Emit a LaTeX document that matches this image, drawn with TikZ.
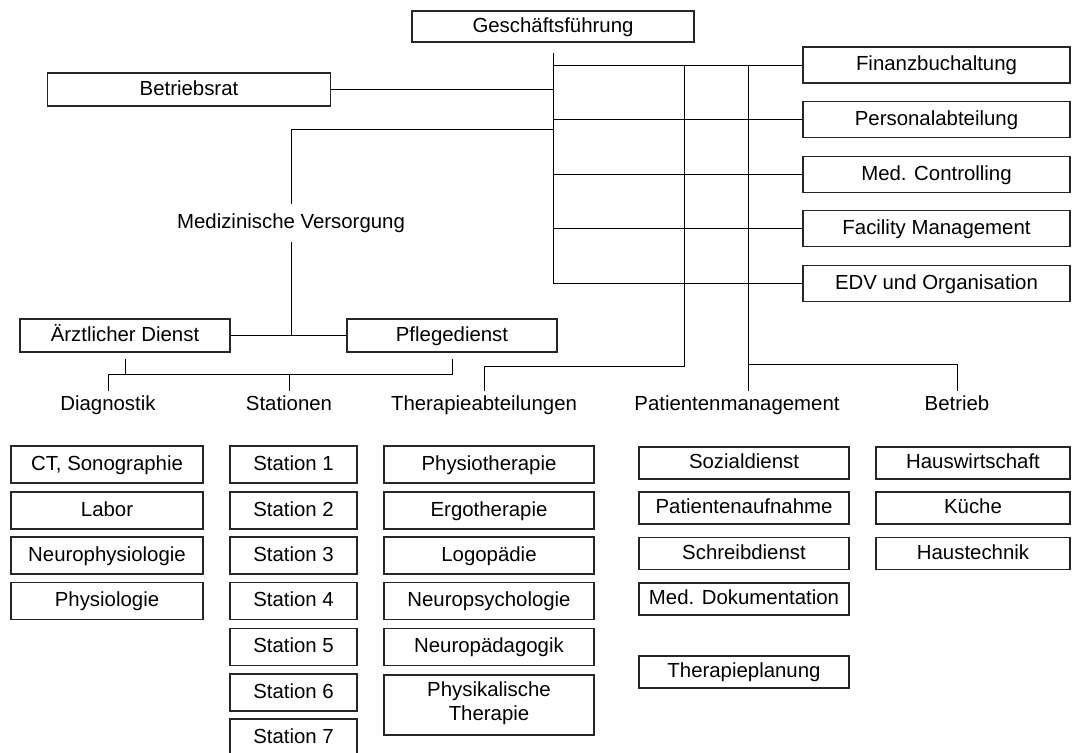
\documentclass[tikz,border=0pt]{standalone}
\usepackage{fontspec}
\setmainfont{Liberation Sans}

\tikzset{
	boxbase/.style={draw=black!85, line width=1.3pt, inner sep=0pt, align=center},
	box/.style={boxbase, text height=10.5pt, text depth=2.5pt},
	conn/.style={draw=black, line width=0.6pt},
	lbl/.style={inner sep=4pt, text height=10pt, text depth=3pt}
}

\begin{document}
\begin{tikzpicture}[x=0.025cm, y=-0.025cm, font=\fontsize{14.5}{17}\selectfont]

	\useasboundingbox (0,0) rectangle (1075,753);
	\clip (0,0) rectangle (1075,753);

	% Leitung
	\node[box, minimum width=7.05cm, minimum height=0.775cm] (gf) at (553,26.5) {Geschäftsführung};
	\node[box, minimum width=7.075cm, minimum height=0.825cm] (br) at (189,89.5) {Betriebsrat};

	% Stabsstellen rechts
	\node[box, minimum width=6.675cm, minimum height=0.9cm] (fin) at (936.5,65) {Finanzbuchaltung};
	\node[box, minimum width=6.675cm, minimum height=0.9cm] (pers) at (936.5,119.5) {Personalabteilung};
	\node[box, minimum width=6.675cm, minimum height=0.9cm] (mctrl) at (936.5,174.5) {Med. Controlling};
	\node[box, minimum width=6.675cm, minimum height=0.9cm] (fac) at (936.5,228.5) {Facility Management};
	\node[box, minimum width=6.675cm, minimum height=0.9cm] (edv) at (936.5,283.5) {EDV und Organisation};

	\coordinate (trunk) at (553,53);
	\draw[conn] (trunk) -- (trunk |- edv.west) -- (edv.west);
	\draw[conn] (trunk |- fin.west) -- (fin.west);
	\draw[conn] (trunk |- pers.west) -- (pers.west);
	\draw[conn] (trunk |- mctrl.west) -- (mctrl.west);
	\draw[conn] (trunk |- fac.west) -- (fac.west);
	\draw[conn] (br.east) -- (br.east -| trunk);

	% Medizinische Versorgung
	\node[minimum height=0.95cm, inner sep=0pt] (mv) at (291,223) {Medizinische Versorgung};
	\node[box, minimum width=5.25cm, minimum height=0.825cm] (aerzt) at (125,335.5) {Ärztlicher Dienst};
	\node[box, minimum width=5.25cm, minimum height=0.825cm] (pflege) at (452,335.5) {Pflegedienst};

	\coordinate (mvtop) at (mv.north |- 0,129);
	\draw[conn] (mvtop -| trunk) -- (mvtop) -- (mv.north);
	\draw[conn] (mv.south) -- (mv.south |- aerzt.east);
	\draw[conn] (aerzt.east) -- (pflege.west);

	% zweite Ebene
	\node[lbl] (diag) at (108,406) {Diagnostik};
	\node[lbl] (stat) at (289,406) {Stationen};
	\node[lbl] (ther) at (484,406) {Therapieabteilungen};
	\node[lbl] (pat) at (737,406) {Patientenmanagement};
	\node[lbl] (betr) at (957,406) {Betrieb};

	\coordinate (bus) at (0,374);
	\draw[conn, shorten >=0.15cm] (diag.north) -- (diag.north |- bus) -- (pflege.south |- bus) -- (pflege.south);
	\draw[conn, shorten >=0.15cm] (aerzt.south |- bus) -- (aerzt.south);
	\draw[conn] (stat.north) -- (stat.north |- bus);

	\coordinate (tv) at (684,366);
	\draw[conn] (ther.north) -- (ther.north |- tv) -- (tv) -- (tv |- fin.west);

	\coordinate (pv) at (748,364);
	\draw[conn] (pv |- fin.west) -- (pv |- pat.north);
	\draw[conn] (pv) -- (pv -| betr.north) -- (betr.north);

	% Diagnostik
	\node[box, minimum width=4.8cm, minimum height=0.925cm] (d1) at (107,464.5) {CT, Sonographie};
	\node[box, minimum width=4.8cm, minimum height=0.925cm] (d2) at (107,510.5) {Labor};
	\node[box, minimum width=4.8cm, minimum height=0.925cm] (d3) at (107,555.5) {Neurophysiologie};
	\node[box, minimum width=4.8cm, minimum height=0.925cm] (d4) at (107,601) {Physiologie};

	% Stationen
	\node[box, minimum width=3.175cm, minimum height=0.925cm] (s1) at (293.5,464.5) {Station 1};
	\node[box, minimum width=3.175cm, minimum height=0.925cm] (s2) at (293.5,510.5) {Station 2};
	\node[box, minimum width=3.175cm, minimum height=0.925cm] (s3) at (293.5,555.5) {Station 3};
	\node[box, minimum width=3.175cm, minimum height=0.925cm] (s4) at (293.5,601) {Station 4};
	\node[box, minimum width=3.175cm, minimum height=0.925cm] (s5) at (293.5,647) {Station 5};
	\node[box, minimum width=3.175cm, minimum height=0.925cm] (s6) at (293.5,692.5) {Station 6};
	\node[box, minimum width=3.175cm, minimum height=0.925cm] (s7) at (293.5,737.5) {Station 7};

	% Therapieabteilungen
	\node[box, minimum width=5.25cm, minimum height=0.925cm] (t1) at (489,464.5) {Physiotherapie};
	\node[box, minimum width=5.25cm, minimum height=0.925cm] (t2) at (489,510.5) {Ergotherapie};
	\node[box, minimum width=5.25cm, minimum height=0.925cm] (t3) at (489,555.5) {Logopädie};
	\node[box, minimum width=5.25cm, minimum height=0.925cm] (t4) at (489,601) {Neuropsychologie};
	\node[box, minimum width=5.25cm, minimum height=0.925cm] (t5) at (489,647) {Neuropädagogik};
	\node[boxbase, minimum width=5.25cm, minimum height=1.5cm, anchor=north] (t6) at (489,674) {\\[-9pt]Physikalische\\Therapie};

	% Patientenmanagement
	\node[box, minimum width=5.25cm, minimum height=0.8cm] (p1) at (744,463) {Sozialdienst};
	\node[box, minimum width=5.25cm, minimum height=0.8cm] (p2) at (744,508) {Patientenaufnahme};
	\node[box, minimum width=5.25cm, minimum height=0.8cm] (p3) at (744,553.5) {Schreibdienst};
	\node[box, minimum width=5.25cm, minimum height=0.8cm] (p4) at (744,599) {Med. Dokumentation};
	\node[box, minimum width=5.25cm, minimum height=0.8cm] (p5) at (744,672) {Therapieplanung};

	% Betrieb
	\node[box, minimum width=4.85cm, minimum height=0.8cm] (b1) at (973,463) {Hauswirtschaft};
	\node[box, minimum width=4.85cm, minimum height=0.8cm] (b2) at (973,508) {Küche};
	\node[box, minimum width=4.85cm, minimum height=0.8cm] (b3) at (973,553.5) {Haustechnik};

\end{tikzpicture}
\end{document}
